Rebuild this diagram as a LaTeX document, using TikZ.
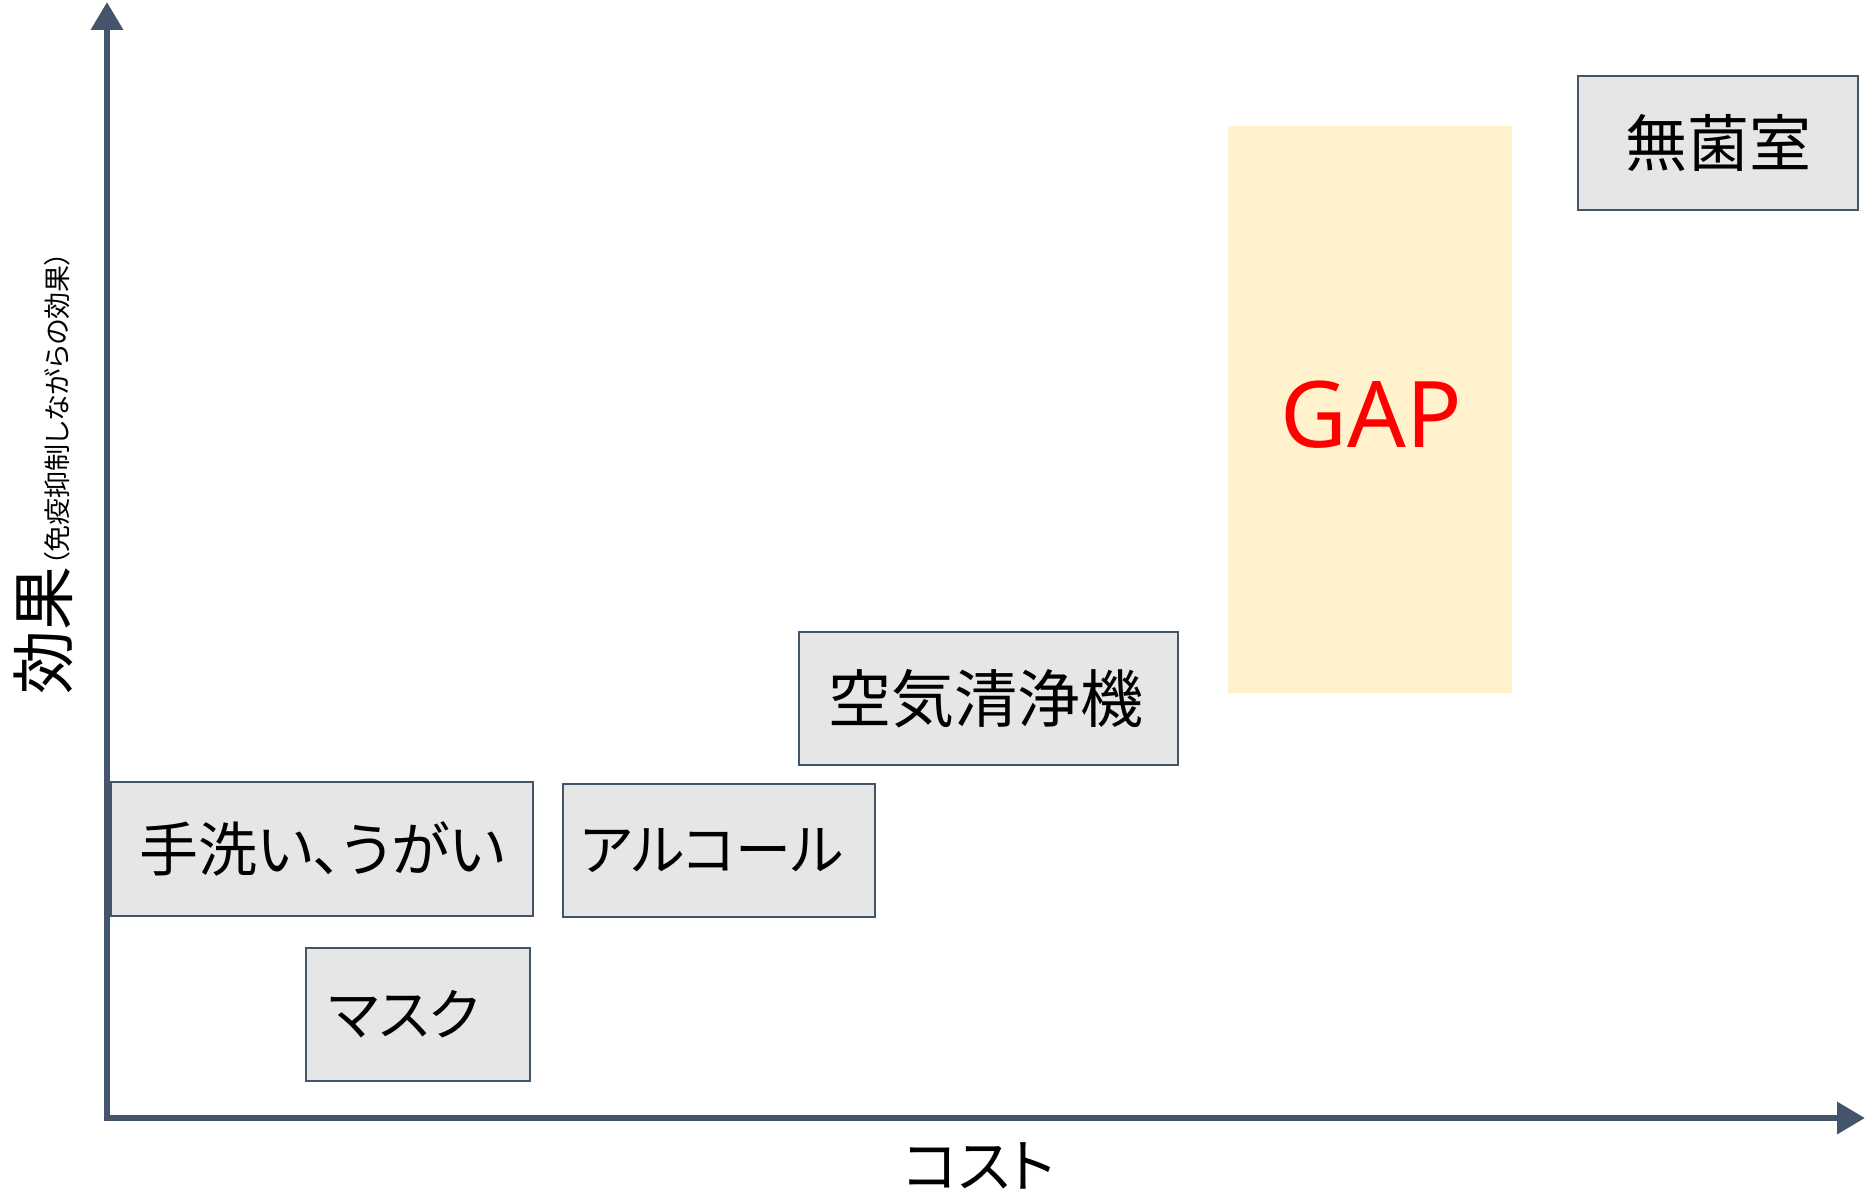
\documentclass[tikz,border=0pt]{standalone}
\usepackage{fontspec}
\usetikzlibrary{arrows.meta}
\newfontfamily\jp{Noto Sans CJK JP}[RawFeature=+palt]
\newfontfamily\lat{Noto Sans}
\definecolor{axiscol}{HTML}{44546A}
\definecolor{boxfill}{HTML}{E6E6E6}
\definecolor{gapfill}{HTML}{FFF2CC}
\tikzset{
  axisline/.style={draw=axiscol, line width=6.5pt, -{Triangle[length=28pt,width=31pt]}},
  item/.style={draw=axiscol, line width=1.4pt, fill=boxfill, inner sep=0pt,
    font=\jp\fontsize{62}{70}\selectfont, text=black},
}
\begin{document}
\begin{tikzpicture}[x=1pt,y=-1pt]
\useasboundingbox (0,0) rectangle (1865,1196);
% GAP region
\node[fill=gapfill, minimum width=284pt, minimum height=567pt, inner sep=0pt] (gap) at (1370,409.5) {};
\node[text=red, font=\lat\fontsize{92}{100}\selectfont] (gaptext) at (1371,415) {GAP};
% axes
\coordinate (o) at (107,1118);
\coordinate (ytop) at (107,2);
\coordinate (xend) at (1865,1118);
\draw[axisline] ([yshift=-3pt]o) -- (ytop);
\draw[axisline] ([xshift=-3pt]o) -- (xend);
% items
\node[item, minimum width=422pt, minimum height=134pt] (hand) at (322,849) {\fontsize{59}{66}\selectfont 手洗い、うがい};
\node[item, minimum width=224pt, minimum height=133pt] (mask) at (418,1014.5) {\hspace*{-28pt}\fontsize{56}{64}\selectfont マスク};
\node[item, minimum width=312pt, minimum height=133pt] (alc) at (719,850.5) {\hspace*{-14pt}\fontsize{56}{64}\selectfont アルコール};
\node[item, minimum width=379pt, minimum height=133pt] (air) at (988.5,698.5) {\hspace*{-6pt}\fontsize{63}{70}\selectfont 空気清浄機};
\node[item, minimum width=280pt, minimum height=134pt] (clean) at (1718,143) {無菌室};
% axis labels
\node[font=\jp\fontsize{58}{64}\selectfont] (xl) at (979,1166) {コスト};
\node[rotate=90, inner sep=0pt] (yl) at (43,473)
  {{\jp\fontsize{64}{70}\selectfont 効果}{\jp\fontsize{27}{30}\selectfont （免疫抑制しながらの効果）}};
\end{tikzpicture}
\end{document}
